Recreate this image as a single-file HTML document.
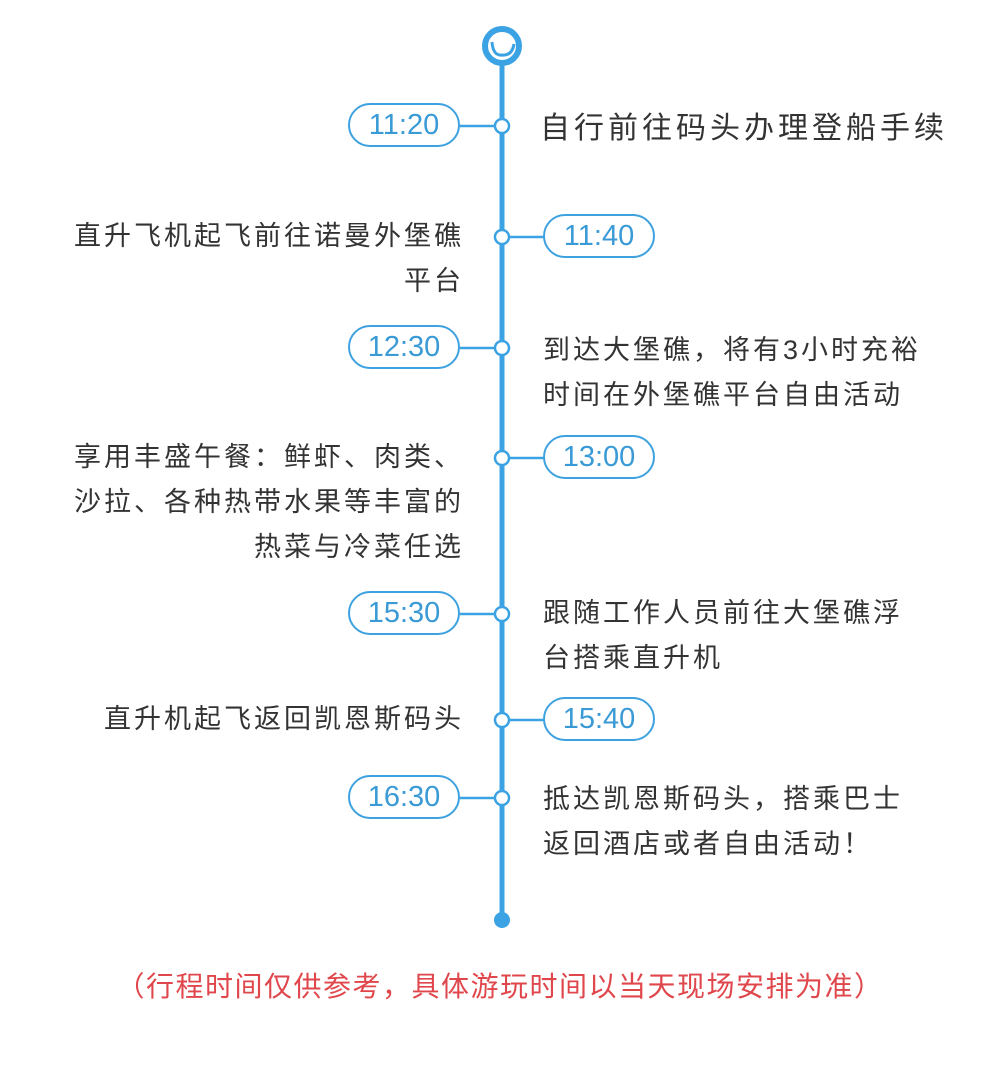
<!DOCTYPE html>
<html><head><meta charset="utf-8"><style>
body{margin:0;width:1000px;height:1070px;background:#fff;position:relative;overflow:hidden;font-family:"Liberation Sans","Noto Sans CJK SC",sans-serif}
.t{position:absolute;font-size:27px;letter-spacing:3px;color:#333;line-height:45px;white-space:nowrap}
.l{text-align:right;right:536px}
.r{left:543px}
.p{position:absolute;width:108px;height:40px;border:2.5px solid #3ea2e0;border-radius:22px;color:#3a9ad6;font-size:29px;line-height:40px;text-align:center;font-family:"Liberation Sans",sans-serif;background:#fff}
</style></head><body>
<svg width="1000" height="1070" style="position:absolute;left:0;top:0">
<line x1="502" y1="60" x2="502" y2="920" stroke="#3ba3e3" stroke-width="5"/>
<circle cx="502" cy="46" r="17" fill="#fff" stroke="#3ba3e3" stroke-width="6"/>
<path d="M492 42 Q493 56 502 55 Q512 56 514 44" fill="none" stroke="#3ba3e3" stroke-width="3"/>
<circle cx="502" cy="920" r="8" fill="#3ba3e3"/>
<g stroke="#3ba3e3" stroke-width="2.5" fill="#fff">
<line x1="460" y1="126" x2="502" y2="126"/><circle cx="502" cy="126" r="7"/>
<line x1="502" y1="237" x2="545" y2="237"/><circle cx="502" cy="237" r="7"/>
<line x1="460" y1="348" x2="502" y2="348"/><circle cx="502" cy="348" r="7"/>
<line x1="502" y1="458" x2="545" y2="458"/><circle cx="502" cy="458" r="7"/>
<line x1="460" y1="614" x2="502" y2="614"/><circle cx="502" cy="614" r="7"/>
<line x1="502" y1="720" x2="545" y2="720"/><circle cx="502" cy="720" r="7"/>
<line x1="460" y1="798" x2="502" y2="798"/><circle cx="502" cy="798" r="7"/>
</g></svg>
<div class="p" style="left:348px;top:103px">11:20</div>
<div class="p" style="left:543px;top:214px">11:40</div>
<div class="p" style="left:348px;top:325px">12:30</div>
<div class="p" style="left:543px;top:435px">13:00</div>
<div class="p" style="left:348px;top:591px">15:30</div>
<div class="p" style="left:543px;top:697px">15:40</div>
<div class="p" style="left:348px;top:775px">16:30</div>
<div class="t" style="left:540px;top:106px;font-size:30px;letter-spacing:4px">自行前往码头办理登船手续</div>
<div class="t l" style="top:214px">直升飞机起飞前往诺曼外堡礁<br>平台</div>
<div class="t r" style="top:328px">到达大堡礁，将有3小时充裕<br>时间在外堡礁平台自由活动</div>
<div class="t l" style="top:435px">享用丰盛午餐：鲜虾、肉类、<br>沙拉、各种热带水果等丰富的<br>热菜与冷菜任选</div>
<div class="t r" style="top:591px">跟随工作人员前往大堡礁浮<br>台搭乘直升机</div>
<div class="t l" style="top:697px">直升机起飞返回凯恩斯码头</div>
<div class="t r" style="top:777px">抵达凯恩斯码头，搭乘巴士<br>返回酒店或者自由活动！</div>
<div class="t" style="left:0;width:1000px;text-align:center;top:964px;color:#e0474c;font-size:28px;letter-spacing:1.5px">（行程时间仅供参考，具体游玩时间以当天现场安排为准）</div>
</body></html>
